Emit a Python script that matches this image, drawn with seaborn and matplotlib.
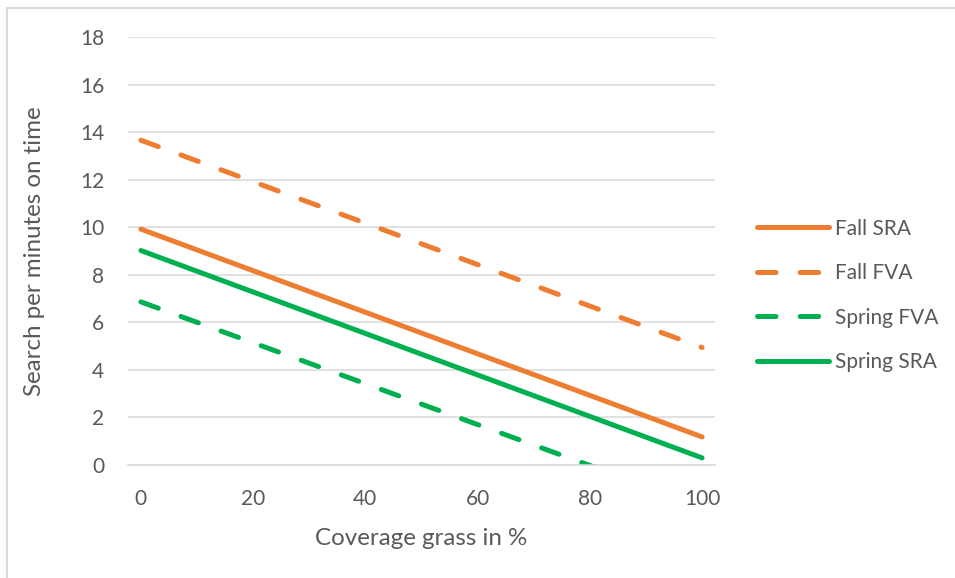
import matplotlib
matplotlib.use("Agg")
import matplotlib.pyplot as plt
from matplotlib.patches import Rectangle
import numpy as np
import pandas as pd
import seaborn as sns

# Coverage of grass (%) at the two ends of each fitted line
coverage = [0, 100]

# Search per minutes on time, for each season / area combination
fall_sra = [9.92, 1.18]
fall_fva = [13.66, 4.94]
spring_fva = [6.86, -1.74]
spring_sra = [9.02, 0.30]

series_names = ["Fall SRA", "Fall FVA", "Spring FVA", "Spring SRA"]
series_values = [fall_sra, fall_fva, spring_fva, spring_sra]

y_ticks = [0, 2, 4, 6, 8, 10, 12, 14, 16, 18]
x_ticks = [0, 20, 40, 60, 80, 100]

ORANGE = "#ED7D31"
GREEN = "#00B050"
GRID = "#D9D9D9"
TEXT = "#595959"

df = pd.DataFrame(
    [
        {"coverage": c, "value": v, "series": name}
        for name, vals in zip(series_names, series_values)
        for c, v in zip(coverage, vals)
    ]
)

sns.set_theme(style="white")
plt.rcParams["font.family"] = ["Lato", "DejaVu Sans"]

fig = plt.figure(figsize=(9.55, 5.78), dpi=100)
ax = fig.add_axes([128 / 955, 1 - 465 / 578, 587 / 955, 428 / 578])

palette = {"Fall SRA": ORANGE, "Fall FVA": ORANGE,
           "Spring FVA": GREEN, "Spring SRA": GREEN}
dash_pattern = (3.7, 4.83)
dashes = {"Fall SRA": "", "Fall FVA": dash_pattern,
          "Spring FVA": dash_pattern, "Spring SRA": ""}

sns.lineplot(
    data=df, x="coverage", y="value", hue="series", style="series",
    hue_order=series_names, style_order=series_names,
    palette=palette, dashes=dashes, linewidth=3.6,
    solid_capstyle="round", dash_capstyle="round",
    legend=True, ax=ax,
)

ax.set_xlim(-2.3, 102.3)
ax.set_ylim(0, 18)
ax.set_xticks(x_ticks)
ax.set_yticks(y_ticks)
ax.tick_params(axis="both", length=0, labelsize=15, labelcolor=TEXT)
ax.tick_params(axis="y", pad=17)
ax.tick_params(axis="x", pad=17)

ax.grid(axis="y", color=GRID, linewidth=1.1)
ax.set_axisbelow(True)
for side in ("top", "right", "left"):
    ax.spines[side].set_visible(False)
ax.spines["bottom"].set_color(GRID)
ax.spines["bottom"].set_linewidth(1.1)

ax.set_xlabel("Coverage grass in %", fontsize=17.4, color=TEXT)
ax.set_ylabel("Search per minutes on time", fontsize=17.4, color=TEXT)
ax.xaxis.set_label_coords(0.5, -0.147)
ax.yaxis.set_label_coords(-0.1415, 0.5)

handles, labels = ax.get_legend_handles_labels()
ax.get_legend().remove()
fig.legend(
    handles, labels, loc="center left",
    bbox_to_anchor=(757 / 955, 1 - 295.5 / 578),
    frameon=False, fontsize=15, labelcolor=TEXT,
    handlelength=3.46, handletextpad=0.3, labelspacing=1.18,
    borderpad=0, borderaxespad=0,
)

# Light chart-area border
fig.patches.append(Rectangle(
    (7 / 955, -0.02), 1.0, 1 - 8 / 578 + 0.02,
    transform=fig.transFigure, fill=False,
    edgecolor=GRID, linewidth=1.5,
))

fig.savefig("out.png", dpi=100)
